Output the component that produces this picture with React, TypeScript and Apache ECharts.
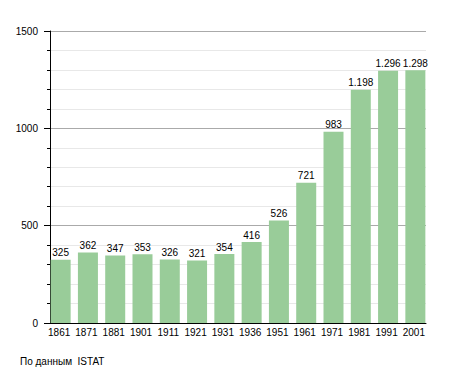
import React, { useEffect, useRef } from "react";
import * as echarts from "echarts";

const years = ["1861", "1871", "1881", "1901", "1911", "1921", "1931", "1936", "1951", "1961", "1971", "1981", "1991", "2001"];
const population = [325, 362, 347, 353, 326, 321, 354, 416, 526, 721, 983, 1198, 1296, 1298];
const sourceText = "По данным  ISTAT";

const FONT = "'Liberation Sans', Arial, Helvetica, sans-serif";

function fmt(v: number): string {
  const s = String(Math.round(v));
  return s.replace(/\B(?=(\d{3})+(?!\d))/g, ".");
}

export default function App() {
  const ref = useRef<HTMLDivElement>(null);
  useEffect(() => {
    if (!ref.current) return;
    const chart = echarts.init(ref.current, null, { renderer: "svg" });
    chart.setOption({
      animation: false,
      backgroundColor: "#ffffff",
      textStyle: { fontFamily: FONT },
      grid: [
        { left: 50, right: 29, top: 31, bottom: 50 },
        { left: 47, right: 26, top: 31, bottom: 50 },
      ],
      xAxis: [
        {
          gridIndex: 0,
          type: "category",
          data: years,
          axisLine: { show: true, lineStyle: { color: "#000", width: 1 } },
          axisTick: { show: false },
          axisLabel: { show: false },
          splitLine: { show: false },
          z: 10,
        },
        {
          gridIndex: 1,
          type: "category",
          data: years,
          axisLine: { show: false },
          axisTick: { show: false },
          axisLabel: {
            show: true,
            interval: 0,
            fontSize: 10,
            color: "#000",
            fontFamily: FONT,
            margin: 4,
            padding: [0, 3, 0, 0],
          },
        },
      ],
      yAxis: [
        {
          gridIndex: 0,
          type: "value",
          min: 0,
          max: 1500,
          interval: 500,
          axisLine: { show: true, lineStyle: { color: "#000", width: 1 } },
          axisTick: { show: true, length: 6, lineStyle: { color: "#000" } },
          minorTick: { show: true, splitNumber: 5, length: 3, lineStyle: { color: "#000" } },
          axisLabel: {
            fontSize: 10,
            color: "#000",
            fontFamily: FONT,
            margin: 12,
            formatter: (v: number) => String(v),
          },
          splitLine: { show: true, lineStyle: { color: "#aaaaaa", width: 1 } },
          minorSplitLine: { show: true, lineStyle: { color: "#e8e8e8", width: 1 } },
        },
        {
          gridIndex: 1,
          type: "value",
          min: 0,
          max: 1500,
          show: false,
          splitLine: { show: false },
        },
      ],
      series: [
        {
          type: "bar",
          xAxisIndex: 1,
          yAxisIndex: 1,
          data: population,
          barWidth: 20,
          z: 5,
          itemStyle: { color: "#99cc99" },
          label: {
            show: true,
            position: "top",
            distance: 2,
            fontSize: 10,
            color: "#000",
            fontFamily: FONT,
            formatter: (p: any) => fmt(p.value),
          },
        },
      ],
      graphic: [
        {
          type: "text",
          left: 20,
          top: 356,
          style: { text: sourceText, fontSize: 10, fill: "#000", fontFamily: FONT },
        },
      ],
    });
    return () => chart.dispose();
  }, []);
  return (
    <div
      ref={ref}
      style={{ position: "fixed", left: 0, top: 0, width: 455, height: 373, background: "#fff" }}
    />
  );
}
